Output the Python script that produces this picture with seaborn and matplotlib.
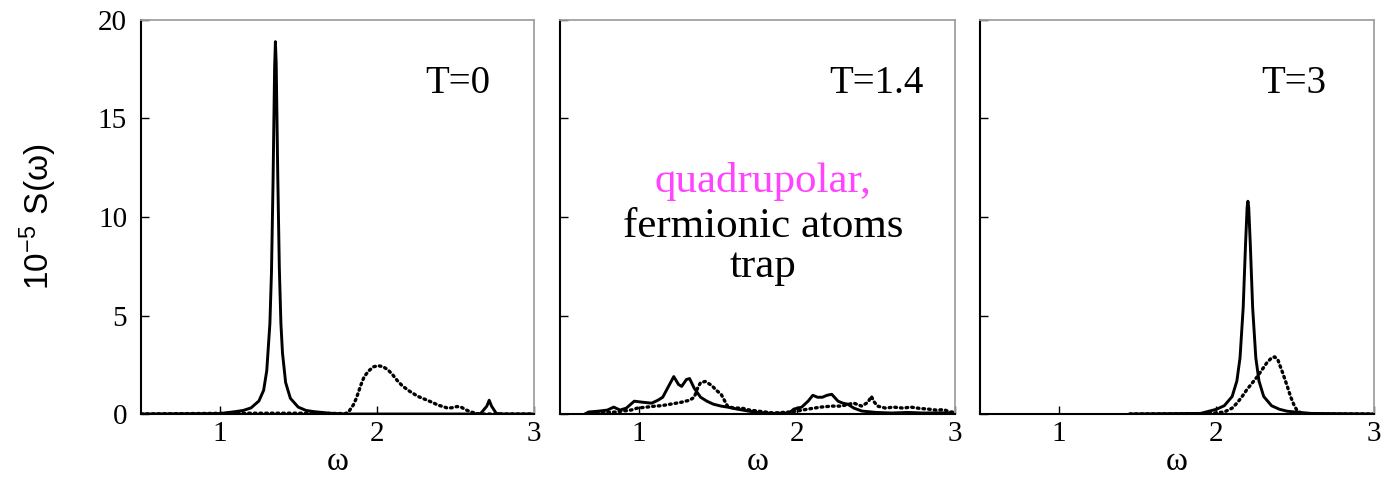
import numpy as np
import pandas as pd
import matplotlib
matplotlib.use("Agg")
import matplotlib.pyplot as plt
import seaborn as sns

# ---- spectra S(omega) in units of 1e-5, read per temperature ----
# T = 0
w_t0_solid = [0.5, 1.0, 1.10, 1.15, 1.20, 1.25, 1.28, 1.30, 1.32, 1.33, 1.34, 1.35, 1.355,
              1.36, 1.37, 1.38, 1.39, 1.40, 1.42, 1.45, 1.50, 1.55, 1.60, 1.70, 1.80,
              2.60, 2.66, 2.70, 2.715, 2.73, 2.76, 2.80, 3.0]
s_t0_solid = [0.0, 0.02, 0.12, 0.18, 0.31, 0.66, 1.2, 2.2, 4.6, 7.2, 11.8, 17.6, 18.9,
              17.8, 12.1, 7.4, 4.6, 3.1, 1.6, 0.8, 0.35, 0.18, 0.12, 0.04, 0.0,
              0.0, 0.02, 0.4, 0.7, 0.4, 0.03, 0.0, 0.0]
w_t0_dot = [0.5, 1.10, 1.60, 1.80, 1.82, 1.85, 1.87, 1.90, 1.92, 1.95, 1.98, 2.01, 2.04,
            2.07, 2.10, 2.13, 2.16, 2.20, 2.23, 2.26, 2.29, 2.32, 2.35, 2.39, 2.42,
            2.45, 2.48, 2.51, 2.54, 2.57, 2.60, 2.65, 3.0]
s_t0_dot = [0.0, 0.04, 0.04, 0.02, 0.1, 0.45, 0.8, 1.5, 1.9, 2.2, 2.4, 2.45, 2.4,
            2.25, 2.0, 1.7, 1.45, 1.2, 1.05, 0.9, 0.8, 0.7, 0.6, 0.45, 0.38,
            0.3, 0.32, 0.38, 0.33, 0.2, 0.1, 0.0, 0.0]

# T = 1.4
w_t14_solid = [0.66, 0.68, 0.75, 0.80, 0.84, 0.88, 0.92, 0.97, 1.02, 1.08, 1.12, 1.15,
               1.18, 1.22, 1.25, 1.27, 1.30, 1.32, 1.35, 1.39, 1.43, 1.47, 1.52, 1.56,
               1.62, 1.69, 1.75, 1.85, 1.95, 1.98, 2.03, 2.07, 2.10, 2.13, 2.16, 2.19,
               2.22, 2.26, 2.29, 2.32, 2.36, 2.41, 2.50, 2.60, 2.70, 2.80, 2.90, 3.0]
s_t14_solid = [0.0, 0.1, 0.15, 0.2, 0.35, 0.2, 0.3, 0.65, 0.6, 0.55, 0.7, 0.85,
               1.3, 1.9, 1.5, 1.4, 1.75, 1.8, 1.3, 0.85, 0.65, 0.5, 0.4, 0.35,
               0.25, 0.15, 0.08, 0.03, 0.05, 0.25, 0.35, 0.65, 0.95, 0.85, 0.85, 0.95,
               1.0, 0.65, 0.55, 0.5, 0.3, 0.15, 0.08, 0.05, 0.08, 0.05, 0.06, 0.05]
w_t14_dot = [0.66, 0.70, 0.85, 0.95, 0.99, 1.05, 1.10, 1.14, 1.20, 1.27, 1.32, 1.35,
             1.37, 1.39, 1.42, 1.46, 1.49, 1.52, 1.54, 1.56, 1.60, 1.65, 1.70, 1.75,
             1.85, 1.95, 2.00, 2.07, 2.15, 2.22, 2.28, 2.33, 2.36, 2.41, 2.45, 2.47,
             2.49, 2.51, 2.56, 2.61, 2.67, 2.72, 2.78, 2.83, 2.88, 2.93, 2.97, 3.0]
s_t14_dot = [0.0, 0.05, 0.1, 0.2, 0.3, 0.35, 0.4, 0.42, 0.5, 0.6, 0.7, 0.85,
             1.3, 1.6, 1.65, 1.45, 1.2, 1.0, 0.7, 0.4, 0.3, 0.3, 0.2, 0.15,
             0.05, 0.1, 0.15, 0.25, 0.35, 0.4, 0.4, 0.5, 0.55, 0.4, 0.6, 0.9,
             0.6, 0.4, 0.3, 0.35, 0.3, 0.35, 0.28, 0.25, 0.2, 0.22, 0.1, 0.1]

# T = 3
w_t3_solid = [1.45, 1.90, 2.00, 2.05, 2.10, 2.13, 2.15, 2.17, 2.185, 2.195, 2.20, 2.205,
              2.215, 2.23, 2.25, 2.27, 2.30, 2.35, 2.40, 2.45, 2.50, 2.60, 3.0]
s_t3_solid = [0.0, 0.03, 0.24, 0.42, 0.89, 1.68, 2.86, 5.4, 8.64, 10.5, 10.8, 10.5,
              8.64, 5.4, 2.86, 1.68, 0.89, 0.42, 0.24, 0.14, 0.1, 0.03, 0.0]
w_t3_dot = [1.45, 1.95, 2.05, 2.10, 2.13, 2.16, 2.19, 2.23, 2.26, 2.29, 2.32, 2.35,
            2.37, 2.39, 2.42, 2.45, 2.47, 2.49, 2.51, 2.54, 2.60, 3.0]
s_t3_dot = [0.0, 0.02, 0.1, 0.3, 0.55, 0.85, 1.2, 1.6, 1.9, 2.25, 2.6, 2.85,
            2.9, 2.75, 2.1, 1.4, 0.9, 0.5, 0.2, 0.03, 0.0, 0.0]

temperature_labels = ["T=0", "T=1.4", "T=3"]
label_right_omega = [2.72, 2.80, 2.70]
x_ticks = [1, 2, 3]
y_ticks = [0, 5, 10, 15, 20]
note_lines = ["quadrupolar,", "fermionic atoms", "trap"]
note_colors = ["#ff44ff", "black", "black"]
note_baselines = [11.27, 8.98, 6.95]


def panel_frame(w_solid, s_solid, w_dot, s_dot):
    a = pd.DataFrame({"omega": w_solid, "S": s_solid, "curve": "solid"})
    b = pd.DataFrame({"omega": w_dot, "S": s_dot, "curve": "dotted"})
    return pd.concat([a, b], ignore_index=True)


frames = [
    panel_frame(w_t0_solid, s_t0_solid, w_t0_dot, s_t0_dot),
    panel_frame(w_t14_solid, s_t14_solid, w_t14_dot, s_t14_dot),
    panel_frame(w_t3_solid, s_t3_solid, w_t3_dot, s_t3_dot),
]

sns.set_style("white")
plt.rcParams["font.family"] = ["Liberation Serif", "DejaVu Serif"]
plt.rcParams["text.color"] = "black"
plt.rcParams["axes.labelcolor"] = "black"
plt.rcParams["lines.dash_capstyle"] = "round"
plt.rcParams["mathtext.fontset"] = "custom"
plt.rcParams["mathtext.rm"] = "Liberation Sans"

fig = plt.figure(figsize=(13.92, 4.78), dpi=100)
W, H = 1392.0, 478.0
lefts = [141, 560, 980]
widths = [393, 395, 394]
top_px, bottom_px = 20, 414

for i, df in enumerate(frames):
    ax = fig.add_axes([lefts[i] / W, 1 - bottom_px / H, widths[i] / W, (bottom_px - top_px) / H])
    sns.lineplot(data=df, x="omega", y="S", style="curve",
                 dashes={"solid": "", "dotted": (0.5, 1.2)},
                 color="black", linewidth=2.1, estimator=None, sort=False,
                 legend=False, ax=ax)
    # the dotted curve is drawn a touch heavier so its dots read clearly
    for ln in ax.get_lines():
        if ln.get_linestyle() not in ("-", "solid"):
            ln.set_linewidth(2.4)
    ax.set_xlim(0.5, 3.0)
    ax.set_ylim(0, 20)
    ax.set_xticks(x_ticks)
    ax.set_yticks(y_ticks)
    ax.tick_params(axis="both", which="major", direction="in", length=6, width=1.0,
                   labelsize=21, colors="black", left=True, bottom=True,
                   top=False, right=False)
    ax.tick_params(axis="y", pad=10)
    ax.tick_params(axis="x", pad=5)
    if i > 0:
        ax.tick_params(axis="y", labelleft=False)
    for side in ("left", "bottom"):
        ax.spines[side].set_color("black")
        ax.spines[side].set_linewidth(1.5)
    for side in ("top", "right"):
        ax.spines[side].set_color("#a0a0a0")
        ax.spines[side].set_linewidth(1.3)
    ax.set_xlabel("ω", fontsize=24, labelpad=0, color="black")
    ax.set_ylabel("")
    ax.text(label_right_omega[i], 16.3, temperature_labels[i], fontsize=28,
            ha="right", va="baseline", color="black")
    if i == 1:
        for line, col, yb in zip(note_lines, note_colors, note_baselines):
            ax.text(1.785, yb, line, fontsize=31, color=col, ha="center", va="baseline")

fig.text(38 / W, 1 - 217 / H, r"$\mathrm{10^{-5}\ S(ω)}$", rotation=90,
         fontsize=24, family="Liberation Sans", ha="center", va="center", color="black")

fig.savefig("out.png", dpi=100)
